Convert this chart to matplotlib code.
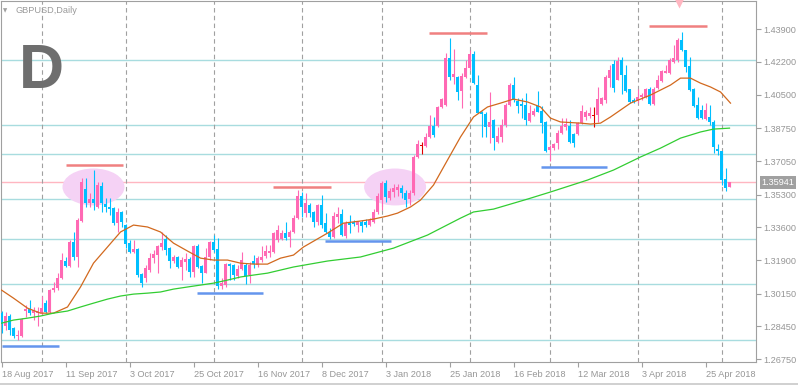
import numpy as np
import matplotlib
matplotlib.use("Agg")
import matplotlib.pyplot as plt
from matplotlib.patches import Ellipse
from matplotlib.lines import Line2D

plt.rcParams['font.family'] = ['Liberation Sans', 'DejaVu Sans']

# GBPUSD daily candles, 18 Aug 2017 .. 3 May 2018
opens = [
    1.2914, 1.2846, 1.2898, 1.2836, 1.2795, 1.2795, 1.2925, 1.2935, 1.2914, 1.2914,
    1.2914, 1.2966, 1.2920, 1.3034, 1.3044, 1.3096, 1.3185, 1.3159, 1.3284, 1.3206,
    1.3393, 1.3559, 1.3486, 1.3507, 1.3466, 1.3575, 1.3481, 1.3466, 1.3460, 1.3382,
    1.3440, 1.3372, 1.3278, 1.3232, 1.3247, 1.3117, 1.3096, 1.3138, 1.3200, 1.3216,
    1.3258, 1.3299, 1.3252, 1.3185, 1.3206, 1.3154, 1.3180, 1.3195, 1.3128, 1.3263,
    1.3159, 1.3122, 1.3206, 1.3284, 1.3247, 1.3055, 1.3060, 1.3169, 1.3164, 1.3107,
    1.3143, 1.3164, 1.3112, 1.3185, 1.3164, 1.3190, 1.3211, 1.3226, 1.3232, 1.3294,
    1.3299, 1.3330, 1.3310, 1.3336, 1.3408, 1.3523, 1.3434, 1.3476, 1.3440, 1.3388,
    1.3476, 1.3382, 1.3336, 1.3310, 1.3414, 1.3429, 1.3315, 1.3382, 1.3388, 1.3372,
    1.3388, 1.3388, 1.3372, 1.3388, 1.3440, 1.3502, 1.3590, 1.3512, 1.3544, 1.3554,
    1.3564, 1.3538, 1.3507, 1.3538, 1.3726, 1.3783, 1.3783, 1.3830, 1.3887, 1.3887,
    1.3986, 1.3996, 1.4240, 1.4142, 1.4142, 1.4069, 1.4142, 1.4188, 1.4261, 1.4100,
    1.3960, 1.3949, 1.3882, 1.3918, 1.3804, 1.3830, 1.3892, 1.3996, 1.4100, 1.4017,
    1.4001, 1.3996, 1.3913, 1.3944, 1.3991, 1.3965, 1.3908, 1.3762, 1.3772, 1.3798,
    1.3850, 1.3882, 1.3887, 1.3845, 1.3845, 1.3902, 1.3934, 1.3939, 1.3939, 1.3944,
    1.4001, 1.4022, 1.4136, 1.4209, 1.4126, 1.4230, 1.4152, 1.4079, 1.4022, 1.4017,
    1.4038, 1.4038, 1.4079, 1.4001, 1.4084, 1.4121, 1.4162, 1.4162, 1.4220, 1.4230,
    1.4334, 1.4282, 1.4199, 1.4079, 1.3996, 1.3970, 1.3923, 1.3934, 1.3908, 1.3767,
    1.3757, 1.3611, 1.3570]
highs = [
    1.2925, 1.2918, 1.2909, 1.2842, 1.2826, 1.2888, 1.2956, 1.2982, 1.2946, 1.2946,
    1.3003, 1.2982, 1.3039, 1.3076, 1.3122, 1.3226, 1.3206, 1.3294, 1.3336, 1.3408,
    1.3616, 1.3616, 1.3538, 1.3658, 1.3596, 1.3596, 1.3512, 1.3512, 1.3466, 1.3460,
    1.3445, 1.3377, 1.3294, 1.3294, 1.3252, 1.3122, 1.3164, 1.3226, 1.3242, 1.3268,
    1.3336, 1.3320, 1.3258, 1.3216, 1.3211, 1.3206, 1.3226, 1.3206, 1.3268, 1.3273,
    1.3164, 1.3252, 1.3289, 1.3320, 1.3304, 1.3096, 1.3174, 1.3174, 1.3169, 1.3164,
    1.3232, 1.3174, 1.3180, 1.3216, 1.3211, 1.3263, 1.3268, 1.3268, 1.3336, 1.3372,
    1.3346, 1.3388, 1.3346, 1.3424, 1.3554, 1.3544, 1.3538, 1.3486, 1.3445, 1.3481,
    1.3528, 1.3434, 1.3356, 1.3440, 1.3466, 1.3455, 1.3393, 1.3424, 1.3398, 1.3393,
    1.3398, 1.3403, 1.3408, 1.3455, 1.3538, 1.3601, 1.3606, 1.3564, 1.3585, 1.3585,
    1.3580, 1.3554, 1.3554, 1.3736, 1.3814, 1.3804, 1.3850, 1.3944, 1.3934, 1.3991,
    1.4032, 1.4266, 1.4344, 1.4287, 1.4147, 1.4162, 1.4230, 1.4282, 1.4277, 1.4152,
    1.3965, 1.3960, 1.4064, 1.3923, 1.3882, 1.3923, 1.4006, 1.4110, 1.4142, 1.4032,
    1.4032, 1.4058, 1.3996, 1.3980, 1.4069, 1.3991, 1.3913, 1.3788, 1.3798, 1.3866,
    1.3928, 1.3928, 1.3918, 1.3850, 1.3908, 1.3996, 1.3970, 1.3986, 1.3986, 1.4090,
    1.4038, 1.4152, 1.4204, 1.4230, 1.4246, 1.4246, 1.4204, 1.4079, 1.4032, 1.4079,
    1.4058, 1.4084, 1.4090, 1.4090, 1.4152, 1.4178, 1.4204, 1.4240, 1.4308, 1.4344,
    1.4376, 1.4282, 1.4246, 1.4084, 1.4038, 1.3996, 1.4006, 1.3996, 1.3918, 1.3793,
    1.3757, 1.3668, 1.3596]
lows = [
    1.2810, 1.2826, 1.2800, 1.2784, 1.2774, 1.2790, 1.2894, 1.2904, 1.2878, 1.2847,
    1.2904, 1.2914, 1.2914, 1.3024, 1.3034, 1.3091, 1.3154, 1.3154, 1.3190, 1.3154,
    1.3388, 1.3466, 1.3466, 1.3450, 1.3460, 1.3440, 1.3440, 1.3424, 1.3372, 1.3336,
    1.3362, 1.3252, 1.3226, 1.3226, 1.3102, 1.3050, 1.3076, 1.3128, 1.3174, 1.3122,
    1.3242, 1.3216, 1.3148, 1.3174, 1.3148, 1.3086, 1.3138, 1.3102, 1.3102, 1.3148,
    1.3070, 1.3122, 1.3190, 1.3232, 1.3039, 1.3039, 1.3050, 1.3086, 1.3086, 1.3096,
    1.3138, 1.3065, 1.3070, 1.3148, 1.3154, 1.3180, 1.3200, 1.3206, 1.3226, 1.3284,
    1.3294, 1.3294, 1.3258, 1.3330, 1.3403, 1.3414, 1.3414, 1.3414, 1.3362, 1.3372,
    1.3356, 1.3330, 1.3299, 1.3304, 1.3382, 1.3315, 1.3304, 1.3330, 1.3367, 1.3336,
    1.3336, 1.3362, 1.3367, 1.3382, 1.3429, 1.3450, 1.3492, 1.3502, 1.3518, 1.3523,
    1.3512, 1.3466, 1.3476, 1.3528, 1.3720, 1.3741, 1.3778, 1.3824, 1.3830, 1.3882,
    1.3980, 1.3991, 1.4126, 1.4105, 1.4022, 1.3980, 1.4136, 1.4178, 1.4105, 1.3954,
    1.3830, 1.3830, 1.3798, 1.3762, 1.3798, 1.3804, 1.3882, 1.3991, 1.4012, 1.3954,
    1.3928, 1.3892, 1.3908, 1.3939, 1.3960, 1.3850, 1.3752, 1.3705, 1.3762, 1.3767,
    1.3845, 1.3866, 1.3798, 1.3778, 1.3840, 1.3897, 1.3918, 1.3928, 1.3882, 1.3908,
    1.3996, 1.4006, 1.4090, 1.4064, 1.4126, 1.4053, 1.4064, 1.4006, 1.4006, 1.4006,
    1.4022, 1.4032, 1.3996, 1.3996, 1.4079, 1.4116, 1.4162, 1.4157, 1.4214, 1.4220,
    1.4277, 1.4168, 1.4069, 1.3986, 1.3923, 1.3923, 1.3918, 1.3892, 1.3746, 1.3736,
    1.3580, 1.3549, 1.3570]
closes = [
    1.2857, 1.2898, 1.2826, 1.2795, 1.2800, 1.2883, 1.2935, 1.2914, 1.2930, 1.2925,
    1.2940, 1.2920, 1.3034, 1.3044, 1.3096, 1.3190, 1.3159, 1.3284, 1.3206, 1.3398,
    1.3596, 1.3486, 1.3507, 1.3486, 1.3580, 1.3486, 1.3466, 1.3455, 1.3382, 1.3440,
    1.3388, 1.3273, 1.3232, 1.3247, 1.3112, 1.3070, 1.3148, 1.3200, 1.3221, 1.3263,
    1.3278, 1.3242, 1.3185, 1.3206, 1.3154, 1.3190, 1.3195, 1.3128, 1.3263, 1.3154,
    1.3122, 1.3206, 1.3284, 1.3242, 1.3055, 1.3070, 1.3169, 1.3159, 1.3112, 1.3143,
    1.3190, 1.3107, 1.3164, 1.3169, 1.3200, 1.3206, 1.3237, 1.3237, 1.3330, 1.3346,
    1.3330, 1.3304, 1.3336, 1.3408, 1.3523, 1.3466, 1.3486, 1.3434, 1.3388, 1.3476,
    1.3372, 1.3336, 1.3310, 1.3419, 1.3429, 1.3320, 1.3382, 1.3372, 1.3377, 1.3388,
    1.3367, 1.3372, 1.3398, 1.3440, 1.3523, 1.3590, 1.3518, 1.3549, 1.3564, 1.3570,
    1.3538, 1.3502, 1.3538, 1.3726, 1.3793, 1.3783, 1.3830, 1.3887, 1.3840, 1.3986,
    1.4027, 1.4240, 1.4142, 1.4157, 1.4064, 1.4147, 1.4188, 1.4261, 1.4110, 1.3954,
    1.3949, 1.3882, 1.3908, 1.3824, 1.3835, 1.3892, 1.3996, 1.4100, 1.4022, 1.3991,
    1.3991, 1.3918, 1.3954, 1.3965, 1.3960, 1.3902, 1.3757, 1.3778, 1.3793, 1.3850,
    1.3887, 1.3897, 1.3804, 1.3798, 1.3902, 1.3965, 1.3960, 1.3954, 1.3939, 1.4027,
    1.4032, 1.4142, 1.4178, 1.4084, 1.4225, 1.4152, 1.4069, 1.4012, 1.4012, 1.4038,
    1.4048, 1.4079, 1.4001, 1.4079, 1.4126, 1.4173, 1.4173, 1.4230, 1.4240, 1.4334,
    1.4282, 1.4194, 1.4074, 1.3991, 1.3928, 1.3928, 1.3970, 1.3908, 1.3778, 1.3757,
    1.3606, 1.3564, 1.3594]

# moving averages (bar index, price)
ma_fast_x = [0, 3, 6.5, 9.75, 13, 16.5, 19.75, 23, 26.5, 29.75, 33, 36.5, 39.75, 43,
             46.5, 49.75, 53, 56.5, 59.75, 63, 66.5, 69.75, 73, 75.5, 81.5, 85.5,
             89.75, 93, 96.5, 99, 102.25, 104.75, 108, 111.5, 114.75, 118, 121.5,
             124.75, 128, 131.5, 134.75, 137.25, 139.75, 144.75, 147.25, 149.75,
             152.25, 154.75, 157.25, 159.75, 162.25, 164.75, 167.25, 169.75, 172.25,
             174.75, 177.25, 179.75, 182.25]
ma_fast_y = [1.3034, 1.2992, 1.2940, 1.2914, 1.2914, 1.2946, 1.3050, 1.3174, 1.3258,
             1.3336, 1.3372, 1.3362, 1.3336, 1.3278, 1.3237, 1.3200, 1.3190, 1.3190,
             1.3174, 1.3169, 1.3169, 1.3200, 1.3216, 1.3258, 1.3330, 1.3382, 1.3393,
             1.3403, 1.3419, 1.3434, 1.3466, 1.3502, 1.3580, 1.3710, 1.3830, 1.3934,
             1.3986, 1.4006, 1.4027, 1.4012, 1.3986, 1.3928, 1.3908, 1.3902, 1.3897,
             1.3902, 1.3934, 1.3970, 1.4006, 1.4027, 1.4048, 1.4074, 1.4100, 1.4136,
             1.4136, 1.4110, 1.4090, 1.4064, 1.4006]
ma_slow_x = [0, 3, 6.5, 9.75, 13, 16.5, 19.75, 23, 26.5, 29.75, 33, 36.5, 39.75, 43,
             46.5, 49.75, 53, 56.5, 59.75, 63, 66.5, 73, 81.5, 89.75, 98, 106.5,
             114.75, 118, 123, 131.5, 137.25, 146.5, 153, 159.75, 164.75, 169.75,
             174.75, 178, 182]
ma_slow_y = [1.2862, 1.2878, 1.2888, 1.2899, 1.2914, 1.2925, 1.2946, 1.2966, 1.2987,
             1.3003, 1.3013, 1.3018, 1.3024, 1.3039, 1.3050, 1.3060, 1.3070, 1.3086,
             1.3102, 1.3112, 1.3122, 1.3154, 1.3185, 1.3206, 1.3252, 1.3320, 1.3408,
             1.3440, 1.3455, 1.3507, 1.3544, 1.3606, 1.3658, 1.3726, 1.3772, 1.3824,
             1.3856, 1.3871, 1.3876]

# axis labels
price_ticks = [1.43900, 1.42200, 1.40500, 1.38750, 1.37050, 1.35300,
               1.33600, 1.31900, 1.30150, 1.28450, 1.26750]
date_labels = ["18 Aug 2017", "11 Sep 2017", "3 Oct 2017", "25 Oct 2017",
               "16 Nov 2017", "8 Dec 2017", "3 Jan 2018", "25 Jan 2018",
               "16 Feb 2018", "12 Mar 2018", "3 Apr 2018", "25 Apr 2018"]
month_starts = [10, 31, 53, 75, 95, 117, 137, 159, 180]
last_price = 1.35941

# drawn objects
h_levels = [1.4230, 1.3892, 1.3741, 1.3506, 1.3299, 1.3065, 1.2774]
res_lines = [(16, 30.25, 1.3684), (67.75, 82.25, 1.3570),
             (106.75, 121.25, 1.4370), (161.75, 176.25, 1.4407)]
sup_lines = [(0, 14.25, 1.2743), (48.75, 65.25, 1.3020),
             (80.75, 97.25, 1.3289), (134.75, 151.25, 1.3674)]
ellipses = [(23.0, 1.3570), (98.4, 1.3570)]

W, H = 798, 386
fig = plt.figure(figsize=(W / 100, H / 100), dpi=100)
ax = fig.add_axes([0.5 / W, (H - 362) / H, 755 / W, 361 / H])

o = np.array(opens); h = np.array(highs); l = np.array(lows); c = np.array(closes)
x = np.arange(len(o))
bull_col, bear_col, doji_col = '#FF69B4', '#00BFFF', '#E00000'
cols = np.where(c > o, bull_col, np.where(c < o, bear_col, doji_col))

for lv in h_levels:
    ax.axhline(lv, color='#A8DCDF', lw=1.0, zorder=1)
ax.axhline(last_price, color='#FFB6C1', lw=1.0, zorder=1)
for m in month_starts:
    ax.axvline(m, color='#A0A0A0', lw=0.8, ls=(0, (4, 3)), zorder=1)

for cx, cy in ellipses:
    ax.add_patch(Ellipse((cx, cy), 15.5, 0.0192, fc='#F5D2F5', ec='none', zorder=1.5))

ax.vlines(x, l, h, colors=cols, lw=0.8, zorder=3)
body = np.maximum(np.abs(c - o), 0.00052)
ax.bar(x, body, bottom=np.minimum(o, c), width=0.72, color=cols, lw=0, zorder=4)

ax.plot(ma_fast_x, ma_fast_y, color='#D2691E', lw=0.9, zorder=5)
ax.plot(ma_slow_x, ma_slow_y, color='#32CD32', lw=0.9, zorder=5)

for x0, x1, p in res_lines:
    ax.plot([x0, x1], [p, p], color='#F08080', lw=1.8, solid_capstyle='butt', zorder=6)
for x0, x1, p in sup_lines:
    ax.plot([x0, x1], [p, p], color='#6495ED', lw=1.8, solid_capstyle='butt', zorder=6)

ax.plot(169.4, 1.4527, marker='v', ms=6.5, color='#FFB6C1', mec='none', clip_on=False, zorder=7)

ax.set_xlim(-0.25, 188.5)
ax.set_ylim(1.2660, 1.4537)

for s in ax.spines.values():
    s.set_color('#A0A0A0')
    s.set_linewidth(0.8)

ax.yaxis.tick_right()
ax.set_yticks(price_ticks)
ax.set_yticklabels([f"{p:.5f}" for p in price_ticks])
ax.set_xticks(np.arange(0, len(o), 16)[:len(date_labels)])
ax.set_xticklabels(date_labels)
ax.tick_params(axis='both', colors='#A0A0A0', labelcolor='#969696',
               labelsize=6.6, length=3.5, width=0.8, direction='out')
ax.tick_params(axis='y', pad=2)
ax.tick_params(axis='x', pad=2)
for t in ax.get_xticklabels():
    t.set_ha('left')

ax.annotate(f"{last_price:.5f}", xy=(1 + 6 / 755, last_price),
            xycoords=('axes fraction', 'data'), va='center', ha='left',
            fontsize=6.6, color='white',
            bbox=dict(boxstyle='square,pad=0.2', fc='#A0A0A0', ec='none'),
            annotation_clip=False, zorder=8)

fig.text(3 / W, 1 - 10.5 / H, '\u25BC', fontsize=4, color='#A0A0A0',
         va='center', ha='left', family='DejaVu Sans')
fig.text(15 / W, 1 - 10.5 / H, 'GBPUSD,Daily', fontsize=6.6, color='#9A9A9A',
         va='center', ha='left')
fig.text(19 / W, 1 - 88 / H, 'D', fontsize=45, fontweight='bold', color='#6E6E6E',
         va='baseline', ha='left')

fig.add_artist(Line2D([0, 1], [2.5 / H, 2.5 / H], color='#C8C8C8', lw=1.2))

fig.savefig('out.png', dpi=100)
